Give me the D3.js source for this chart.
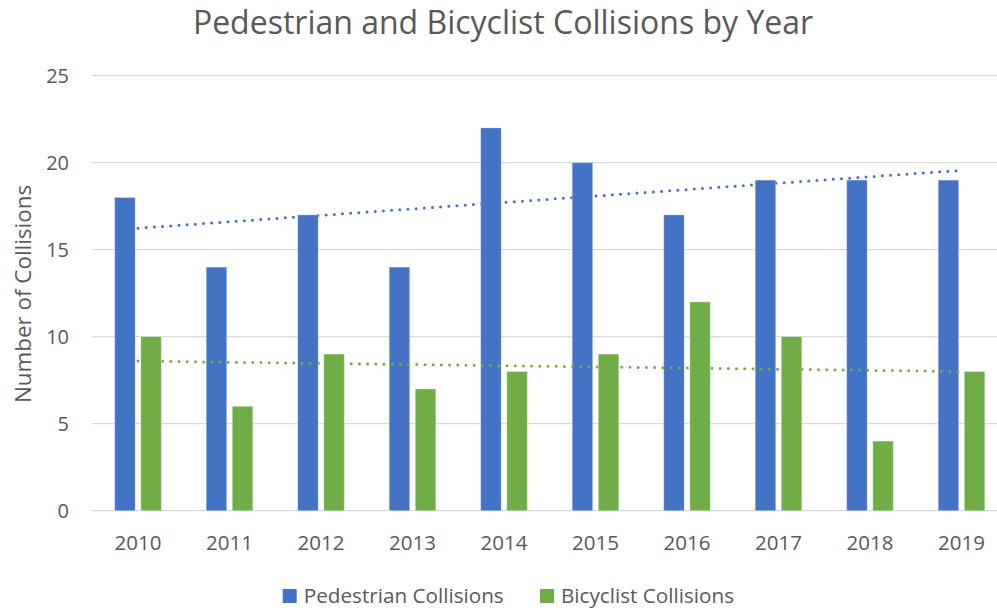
<!DOCTYPE html>
<html>
<head>
<meta charset="utf-8">
<script src="https://cdn.jsdelivr.net/npm/d3@7"></script>
<style>
  body { margin: 0; background: #fff; }
  text { font-family: "Open Sans", sans-serif; fill: #595959; }
</style>
</head>
<body>
<script>
// data
var years = ["2010", "2011", "2012", "2013", "2014", "2015", "2016", "2017", "2018", "2019"];
var pedestrian = [18, 14, 17, 14, 22, 20, 17, 19, 19, 19];
var bicyclist = [10, 6, 9, 7, 8, 9, 12, 10, 4, 8];
var yTicks = [0, 5, 10, 15, 20, 25];
var seriesNames = ["Pedestrian Collisions", "Bicyclist Collisions"];
var seriesColors = ["#4472C4", "#70AD47"];

var width = 997, height = 610;

var svg = d3.select("body").append("svg")
  .attr("width", width)
  .attr("height", height);

var x = d3.scaleBand().domain(years).range([92.25, 1007.25]);
var x1 = d3.scaleBand().domain(seriesNames)
  .range([22.45, 69.05])
  .paddingInner(0.2146);
var y = d3.scaleLinear().domain([0, 25]).range([510.7, 75.7]);

// gridlines
svg.append("g")
  .selectAll("line")
  .data(yTicks)
  .enter()
  .append("line")
  .attr("x1", 92)
  .attr("x2", width)
  .attr("y1", function (d) { return y(d); })
  .attr("y2", function (d) { return y(d); })
  .attr("stroke", "#D9D9D9")
  .attr("stroke-width", 1.3);

// y tick labels
svg.append("g")
  .selectAll("text")
  .data(yTicks)
  .enter()
  .append("text")
  .attr("x", 69)
  .attr("y", function (d) { return y(d) + 7.5; })
  .attr("text-anchor", "end")
  .attr("font-size", "20px")
  .text(function (d) { return d; });

// x tick labels
svg.append("g")
  .selectAll("text")
  .data(years)
  .enter()
  .append("text")
  .attr("x", function (d) { return x(d) + x.bandwidth() / 2; })
  .attr("y", 550)
  .attr("text-anchor", "middle")
  .attr("font-size", "20.5px")
  .text(function (d) { return d; });

// linear trendline through the series (least squares)
function trend(values) {
  var n = values.length;
  var mx = d3.mean(values, function (v, i) { return i; });
  var my = d3.mean(values);
  var sxy = 0, sxx = 0;
  values.forEach(function (v, i) {
    sxy += (i - mx) * (v - my);
    sxx += (i - mx) * (i - mx);
  });
  var slope = sxy / sxx;
  var b = my - slope * mx;
  return [[0, b], [n - 1, b + slope * (n - 1)]];
}

var trendLine = d3.line()
  .x(function (p) { return x(years[p[0]]) + x.bandwidth() / 2; })
  .y(function (p) { return y(p[1]); });

[pedestrian, bicyclist].forEach(function (values, k) {
  // trendline under its own bars
  svg.append("path")
    .attr("d", trendLine(trend(values)))
    .attr("fill", "none")
    .attr("stroke", seriesColors[k])
    .attr("stroke-width", 3)
    .attr("stroke-linecap", "round")
    .attr("stroke-dasharray", "0 8.2");

  svg.append("g")
    .selectAll("rect")
    .data(values)
    .enter()
    .append("rect")
    .attr("x", function (d, i) { return x(years[i]) + x1(seriesNames[k]); })
    .attr("width", x1.bandwidth())
    .attr("y", function (d) { return y(d); })
    .attr("height", function (d) { return y(0) - y(d); })
    .attr("fill", seriesColors[k])
    .attr("stroke", "#ffffff")
    .attr("stroke-opacity", 0.3)
    .attr("stroke-width", 1);
});

// title
svg.append("text")
  .attr("x", 503)
  .attr("y", 34)
  .attr("text-anchor", "middle")
  .attr("font-size", "32px")
  .text("Pedestrian and Bicyclist Collisions by Year");

// y axis title
svg.append("text")
  .attr("transform", "translate(31,294) rotate(-90)")
  .attr("text-anchor", "middle")
  .attr("font-size", "22.4px")
  .text("Number of Collisions");

// legend
var legendX = [282.7, 540];
var legend = svg.append("g");
seriesNames.forEach(function (name, k) {
  legend.append("rect")
    .attr("x", legendX[k])
    .attr("y", 589)
    .attr("width", 14)
    .attr("height", 14)
    .attr("fill", seriesColors[k]);
  legend.append("text")
    .attr("x", legendX[k] + 21)
    .attr("y", 603)
    .attr("font-size", "20.7px")
    .text(name);
});
</script>
</body>
</html>
